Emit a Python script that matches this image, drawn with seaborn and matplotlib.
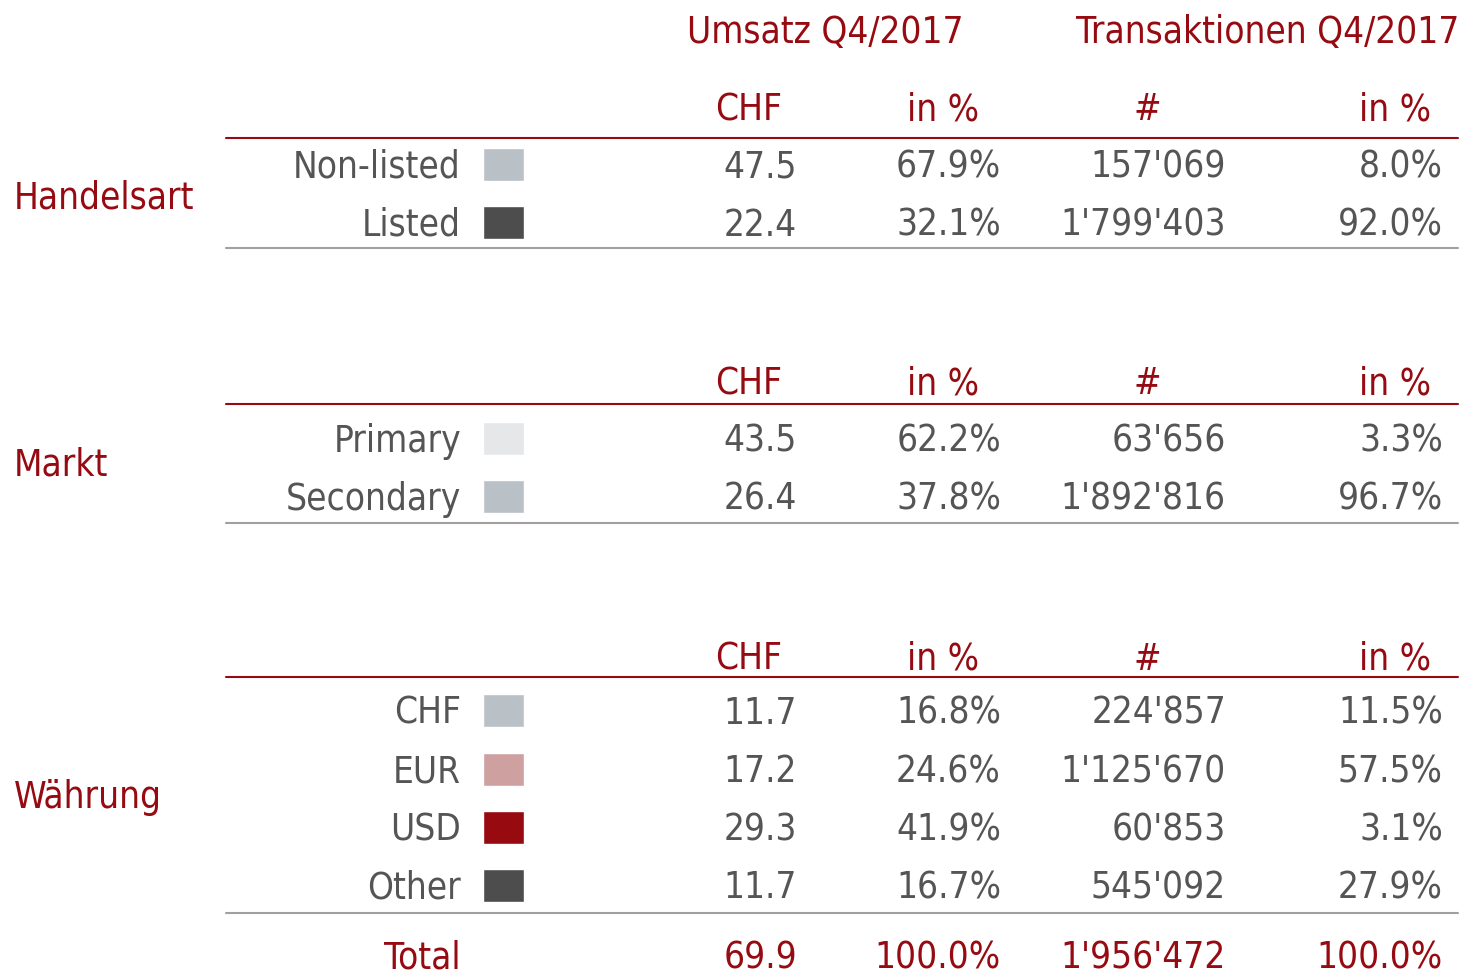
import matplotlib
matplotlib.use("Agg")
import matplotlib.pyplot as plt
import seaborn as sns

# ---- data ---------------------------------------------------------------
title_umsatz = "Umsatz Q4/2017"
title_tx = "Transaktionen Q4/2017"
col_headers = ["CHF", "in %", "#", "in %"]

groups = ["Handelsart", "Markt", "Währung"]

handel_labels = ["Non-listed", "Listed"]
handel_chf = ["47.5", "22.4"]
handel_pct = ["67.9%", "32.1%"]
handel_tx = ["157'069", "1'799'403"]
handel_tx_pct = ["8.0%", "92.0%"]

markt_labels = ["Primary", "Secondary"]
markt_chf = ["43.5", "26.4"]
markt_pct = ["62.2%", "37.8%"]
markt_tx = ["63'656", "1'892'816"]
markt_tx_pct = ["3.3%", "96.7%"]

wahr_labels = ["CHF", "EUR", "USD", "Other"]
wahr_chf = ["11.7", "17.2", "29.3", "11.7"]
wahr_pct = ["16.8%", "24.6%", "41.9%", "16.7%"]
wahr_tx = ["224'857", "1'125'670", "60'853", "545'092"]
wahr_tx_pct = ["11.5%", "57.5%", "3.1%", "27.9%"]

total_row = ["69.9", "100.0%", "1'956'472", "100.0%"]

# ---- style --------------------------------------------------------------
RED = "#960A12"
GREY_TXT = "#555555"
swatch_colors = {
    "Non-listed": "#B9C0C6", "Listed": "#4D4D4D",
    "Primary": "#E6E7E8", "Secondary": "#B9C0C6",
    "CHF": "#B9C0C6", "EUR": "#CFA0A0", "USD": "#960A10", "Other": "#4D4D4D",
}

sns.set_theme(style="white")
plt.rcParams["font.family"] = ["DejaVu Sans"]
plt.rcParams["font.stretch"] = "condensed"

fig = plt.figure(figsize=(14.66, 9.78), dpi=100)
ax = fig.add_axes([0, 0, 1, 1])
ax.set_xlim(0, 1466)
ax.set_ylim(978, 0)
ax.axis("off")

FS = 26.5
DY = 2  # small nudge so text sits like the reference
TXT = dict(fontsize=FS, fontstretch="condensed", va="center")
LINE_X0, LINE_X1 = 226, 1458
label_right = 461
value_right = [797, 1001, 1226, 1443]
header_center = [749, 943, 1147, 1395]

ax.text(825, 30 + DY, title_umsatz, color=RED, ha="center", **TXT)
ax.text(1268, 30 + DY, title_tx, color=RED, ha="center", **TXT)

blocks = [
    (handel_labels, handel_chf, handel_pct, handel_tx, handel_tx_pct, 108, 139, [165, 223], 249, 196),
    (markt_labels, markt_chf, markt_pct, markt_tx, markt_tx_pct, 382, 405, [439, 497], 524, 463),
    (wahr_labels, wahr_chf, wahr_pct, wahr_tx, wahr_tx_pct, 657, 678, [711, 770, 828, 886], 914, 796),
]

for group, (labels, chf, pct, tx, txp, hy, redy, rows, greyy, gy) in zip(groups, blocks):
    for xc, h in zip(header_center, col_headers):
        ax.text(xc, hy + DY, h, color=RED, ha="center", **TXT)
    ax.plot([LINE_X0, LINE_X1], [redy, redy], color=RED, lw=1.5)
    ax.plot([LINE_X0, LINE_X1], [greyy, greyy], color="#A0A0A0", lw=1.5)
    ax.text(14, gy + DY, group, color=RED, ha="left", **TXT)
    ax.barh(rows, [41] * len(rows), left=483, height=33,
            color=[swatch_colors[l] for l in labels])
    for i, y in enumerate(rows):
        ax.text(label_right, y + DY, labels[i], color=GREY_TXT, ha="right", **TXT)
        for xr, v in zip(value_right, [chf[i], pct[i], tx[i], txp[i]]):
            ax.text(xr, y + DY, v, color=GREY_TXT, ha="right", **TXT)

# total row kept just inside the bottom edge
TOTAL_Y = 958
ax.text(label_right, TOTAL_Y, "Total", color=RED, ha="right", **TXT)
for xr, v in zip(value_right, total_row):
    ax.text(xr, TOTAL_Y, v, color=RED, ha="right", **TXT)

fig.savefig("out.png", dpi=100)
